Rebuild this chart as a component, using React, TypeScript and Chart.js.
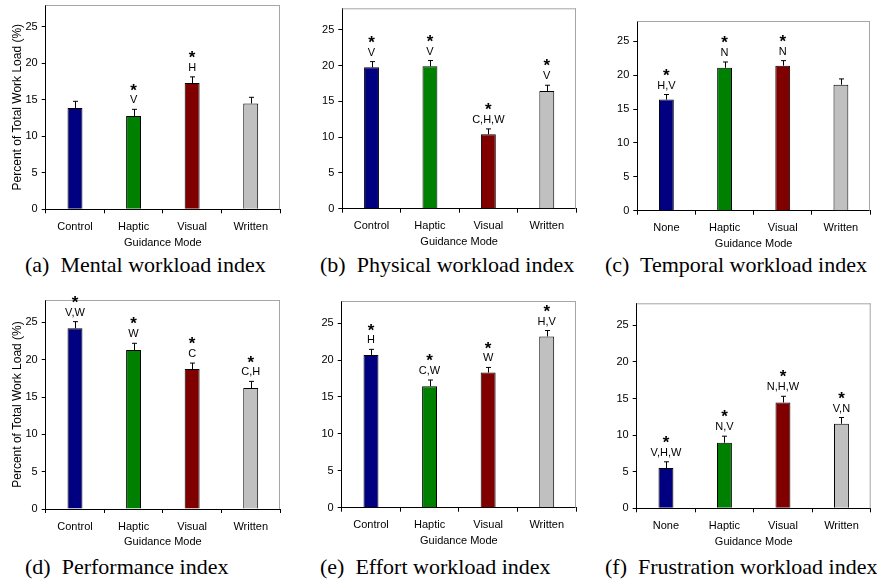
import React, { useEffect, useRef } from "react";
import { Chart, registerables } from "chart.js";

Chart.register(...registerables);

// ---------- data ----------
const controlCategories = ["Control", "Haptic", "Visual", "Written"];
const noneCategories = ["None", "Haptic", "Visual", "Written"];
const barColors = ["#000080", "#008000", "#800000", "#C0C0C0"];
const yTicks = [0, 5, 10, 15, 20, 25];

const mentalValues = [13.9, 12.8, 17.3, 14.5];
const mentalErrors = [0.9, 0.9, 0.85, 0.85];
const mentalSig = ["", "V", "H", ""];

const physicalValues = [19.75, 19.9, 10.4, 16.45];
const physicalErrors = [0.8, 0.8, 0.75, 0.8];
const physicalSig = ["V", "V", "C,H,W", "V"];

const temporalValues = [16.4, 21.1, 21.4, 18.6];
const temporalErrors = [0.75, 0.85, 0.75, 0.85];
const temporalSig = ["H,V", "N", "N", ""];

const performanceValues = [24.2, 21.3, 18.75, 16.2];
const performanceErrors = [0.9, 0.9, 0.8, 0.9];
const performanceSig = ["V,W", "W", "C", "C,H"];

const effortValues = [20.7, 16.45, 18.3, 23.2];
const effortErrors = [0.75, 0.85, 0.7, 0.8];
const effortSig = ["H", "C,W", "W", "H,V"];

const frustrationValues = [5.5, 8.95, 14.45, 11.55];
const frustrationErrors = [0.85, 0.9, 0.85, 0.85];
const frustrationSig = ["V,H,W", "N,V", "N,H,W", "V,N"];

const yAxisTitle = "Percent of Total Work Load (%)";
const xAxisTitle = "Guidance Mode";

// ---------- styling ----------
const SANS = "'Liberation Sans', Arial, sans-serif";
const SERIF = "'Liberation Serif', 'Times New Roman', serif";

type Rect = { l: number; t: number; r: number; b: number };
type PanelSpec = {
  key: string;
  categories: string[];
  values: number[];
  errors: number[];
  sig: string[];
  caption: string;
  yTitle: boolean;
  plot: Rect;
  canvasLeft: number;
  captionLeft: number;
  captionTop: number;
};

const panels: PanelSpec[] = [
  { key: "a", categories: controlCategories, values: mentalValues, errors: mentalErrors, sig: mentalSig,
    caption: "(a)  Mental workload index", yTitle: true,
    plot: { l: 45.7, t: 5, r: 280, b: 209.3 }, canvasLeft: 0, captionLeft: 25, captionTop: 254 },
  { key: "b", categories: controlCategories, values: physicalValues, errors: physicalErrors, sig: physicalSig,
    caption: "(b)  Physical workload index", yTitle: false,
    plot: { l: 342.3, t: 8.3, r: 576, b: 208.7 }, canvasLeft: 300, captionLeft: 320, captionTop: 254 },
  { key: "c", categories: noneCategories, values: temporalValues, errors: temporalErrors, sig: temporalSig,
    caption: "(c)  Temporal workload index", yTitle: false,
    plot: { l: 637.3, t: 21, r: 870, b: 210.7 }, canvasLeft: 595, captionLeft: 605, captionTop: 254 },
  { key: "d", categories: controlCategories, values: performanceValues, errors: performanceErrors, sig: performanceSig,
    caption: "(d)  Performance index", yTitle: true,
    plot: { l: 45.7, t: 300, r: 280, b: 509 }, canvasLeft: 0, captionLeft: 25, captionTop: 556 },
  { key: "e", categories: controlCategories, values: effortValues, errors: effortErrors, sig: effortSig,
    caption: "(e)  Effort workload index", yTitle: false,
    plot: { l: 341.7, t: 301, r: 576, b: 507.7 }, canvasLeft: 300, captionLeft: 320, captionTop: 556 },
  { key: "f", categories: noneCategories, values: frustrationValues, errors: frustrationErrors, sig: frustrationSig,
    caption: "(f)  Frustration workload index", yTitle: false,
    plot: { l: 636.7, t: 303.3, r: 870.7, b: 508.3 }, canvasLeft: 595, captionLeft: 605, captionTop: 556 },
];

const X_AXIS_H = 40;
const PAD_TOP = 12;
const PAD_RIGHT = 4;

function Panel({ spec }: { spec: PanelSpec }) {
  const ref = useRef<HTMLCanvasElement | null>(null);
  const cLeft = spec.canvasLeft;
  const cTop = Math.floor(spec.plot.t - PAD_TOP);
  const cWidth = Math.ceil(spec.plot.r + PAD_RIGHT - cLeft);
  const cHeight = Math.ceil(spec.plot.b + X_AXIS_H - cTop);

  useEffect(() => {
    if (!ref.current) return;
    const padTop = spec.plot.t - cTop;
    const padRight = cWidth - (spec.plot.r - cLeft);
    const padBottom = cHeight - (spec.plot.b - cTop) - X_AXIS_H;
    const yW = spec.plot.l - cLeft;

    const annotate = {
      id: "errAndSig",
      beforeDatasetsDraw(chart: any) {
        const { ctx, chartArea } = chart;
        ctx.save();
        ctx.strokeStyle = "#a6a6a6";
        ctx.lineWidth = 1;
        ctx.beginPath();
        ctx.moveTo(chartArea.left, chartArea.top + 0.5);
        ctx.lineTo(chartArea.right, chartArea.top + 0.5);
        ctx.moveTo(chartArea.right - 0.5, chartArea.top);
        ctx.lineTo(chartArea.right - 0.5, chartArea.bottom);
        ctx.stroke();
        ctx.restore();
      },
      afterDatasetsDraw(chart: any) {
        const { ctx } = chart;
        const meta = chart.getDatasetMeta(0);
        const ys = chart.scales.y;
        ctx.save();
        meta.data.forEach((bar: any, i: number) => {
          const x = Math.round(bar.x) + 0.5;
          const top = ys.getPixelForValue(spec.values[i]);
          const et = ys.getPixelForValue(spec.values[i] + spec.errors[i]);
          ctx.strokeStyle = "#000";
          ctx.lineWidth = 1;
          ctx.beginPath();
          ctx.moveTo(x, top);
          ctx.lineTo(x, et);
          ctx.moveTo(x - 2.5, et);
          ctx.lineTo(x + 2.5, et);
          ctx.stroke();
          const s = spec.sig[i];
          if (s) {
            ctx.fillStyle = "#000";
            ctx.textAlign = "center";
            ctx.textBaseline = "middle";
            ctx.font = `11px ${SANS}`;
            ctx.fillText(s, bar.x, et - 9);
            ctx.font = `bold 17px ${SANS}`;
            ctx.fillText("*", bar.x, et - 18.5);
          }
        });
        ctx.restore();
      },
    };

    const chart = new Chart(ref.current, {
      type: "bar",
      data: {
        labels: spec.categories,
        datasets: [
          {
            data: spec.values,
            backgroundColor: barColors,
            borderColor: "#000",
            borderWidth: 1,
            barPercentage: 0.255,
            categoryPercentage: 1,
          },
        ],
      },
      options: {
        animation: false,
        responsive: false,
        maintainAspectRatio: false,
        layout: { padding: { left: 0, top: padTop, right: padRight, bottom: padBottom } },
        plugins: { legend: { display: false }, tooltip: { enabled: false } },
        scales: {
          x: {
            afterFit: (s: any) => {
              s.height = X_AXIS_H;
            },
            offset: true,
            grid: { offset: true, drawOnChartArea: false, drawTicks: true, tickLength: 4, color: "#000" },
            border: { color: "#000", width: 1 },
            ticks: { font: { family: SANS, size: 11 }, color: "#000", padding: 7, maxRotation: 0, autoSkip: false },
            title: { display: true, text: xAxisTitle, font: { family: SANS, size: 11 }, color: "#000", padding: 0 },
          },
          y: {
            min: 0,
            max: 28,
            afterFit: (s: any) => {
              s.width = yW;
            },
            afterBuildTicks: (s: any) => {
              s.ticks = yTicks.map((v) => ({ value: v }));
            },
            grid: { drawOnChartArea: false, drawTicks: true, tickLength: 4, color: "#000" },
            border: { color: "#000", width: 1 },
            ticks: { font: { family: SANS, size: 11 }, color: "#000", padding: 4 },
            title: {
              display: spec.yTitle,
              text: yAxisTitle,
              font: { family: SANS, size: 12 },
              color: "#000",
              padding: { top: 10, bottom: 0 },
            },
          },
        },
      },
      plugins: [annotate],
    } as any);
    return () => chart.destroy();
  }, []);

  return (
    <canvas
      ref={ref}
      width={cWidth}
      height={cHeight}
      style={{ position: "absolute", left: cLeft, top: cTop, width: cWidth, height: cHeight }}
    />
  );
}

export default function App() {
  return (
    <div
      style={{
        position: "absolute",
        left: 0,
        top: 0,
        width: 877,
        height: 586,
        background: "#fff",
        overflow: "hidden",
      }}
    >
      {panels.map((p) => (
        <Panel key={p.key} spec={p} />
      ))}
      {panels.map((p) => (
        <div
          key={"cap" + p.key}
          style={{
            position: "absolute",
            left: p.captionLeft,
            top: p.captionTop,
            fontFamily: SERIF,
            fontSize: 22,
            lineHeight: "22px",
            whiteSpace: "pre",
            color: "#000",
          }}
        >
          {p.caption}
        </div>
      ))}
    </div>
  );
}
